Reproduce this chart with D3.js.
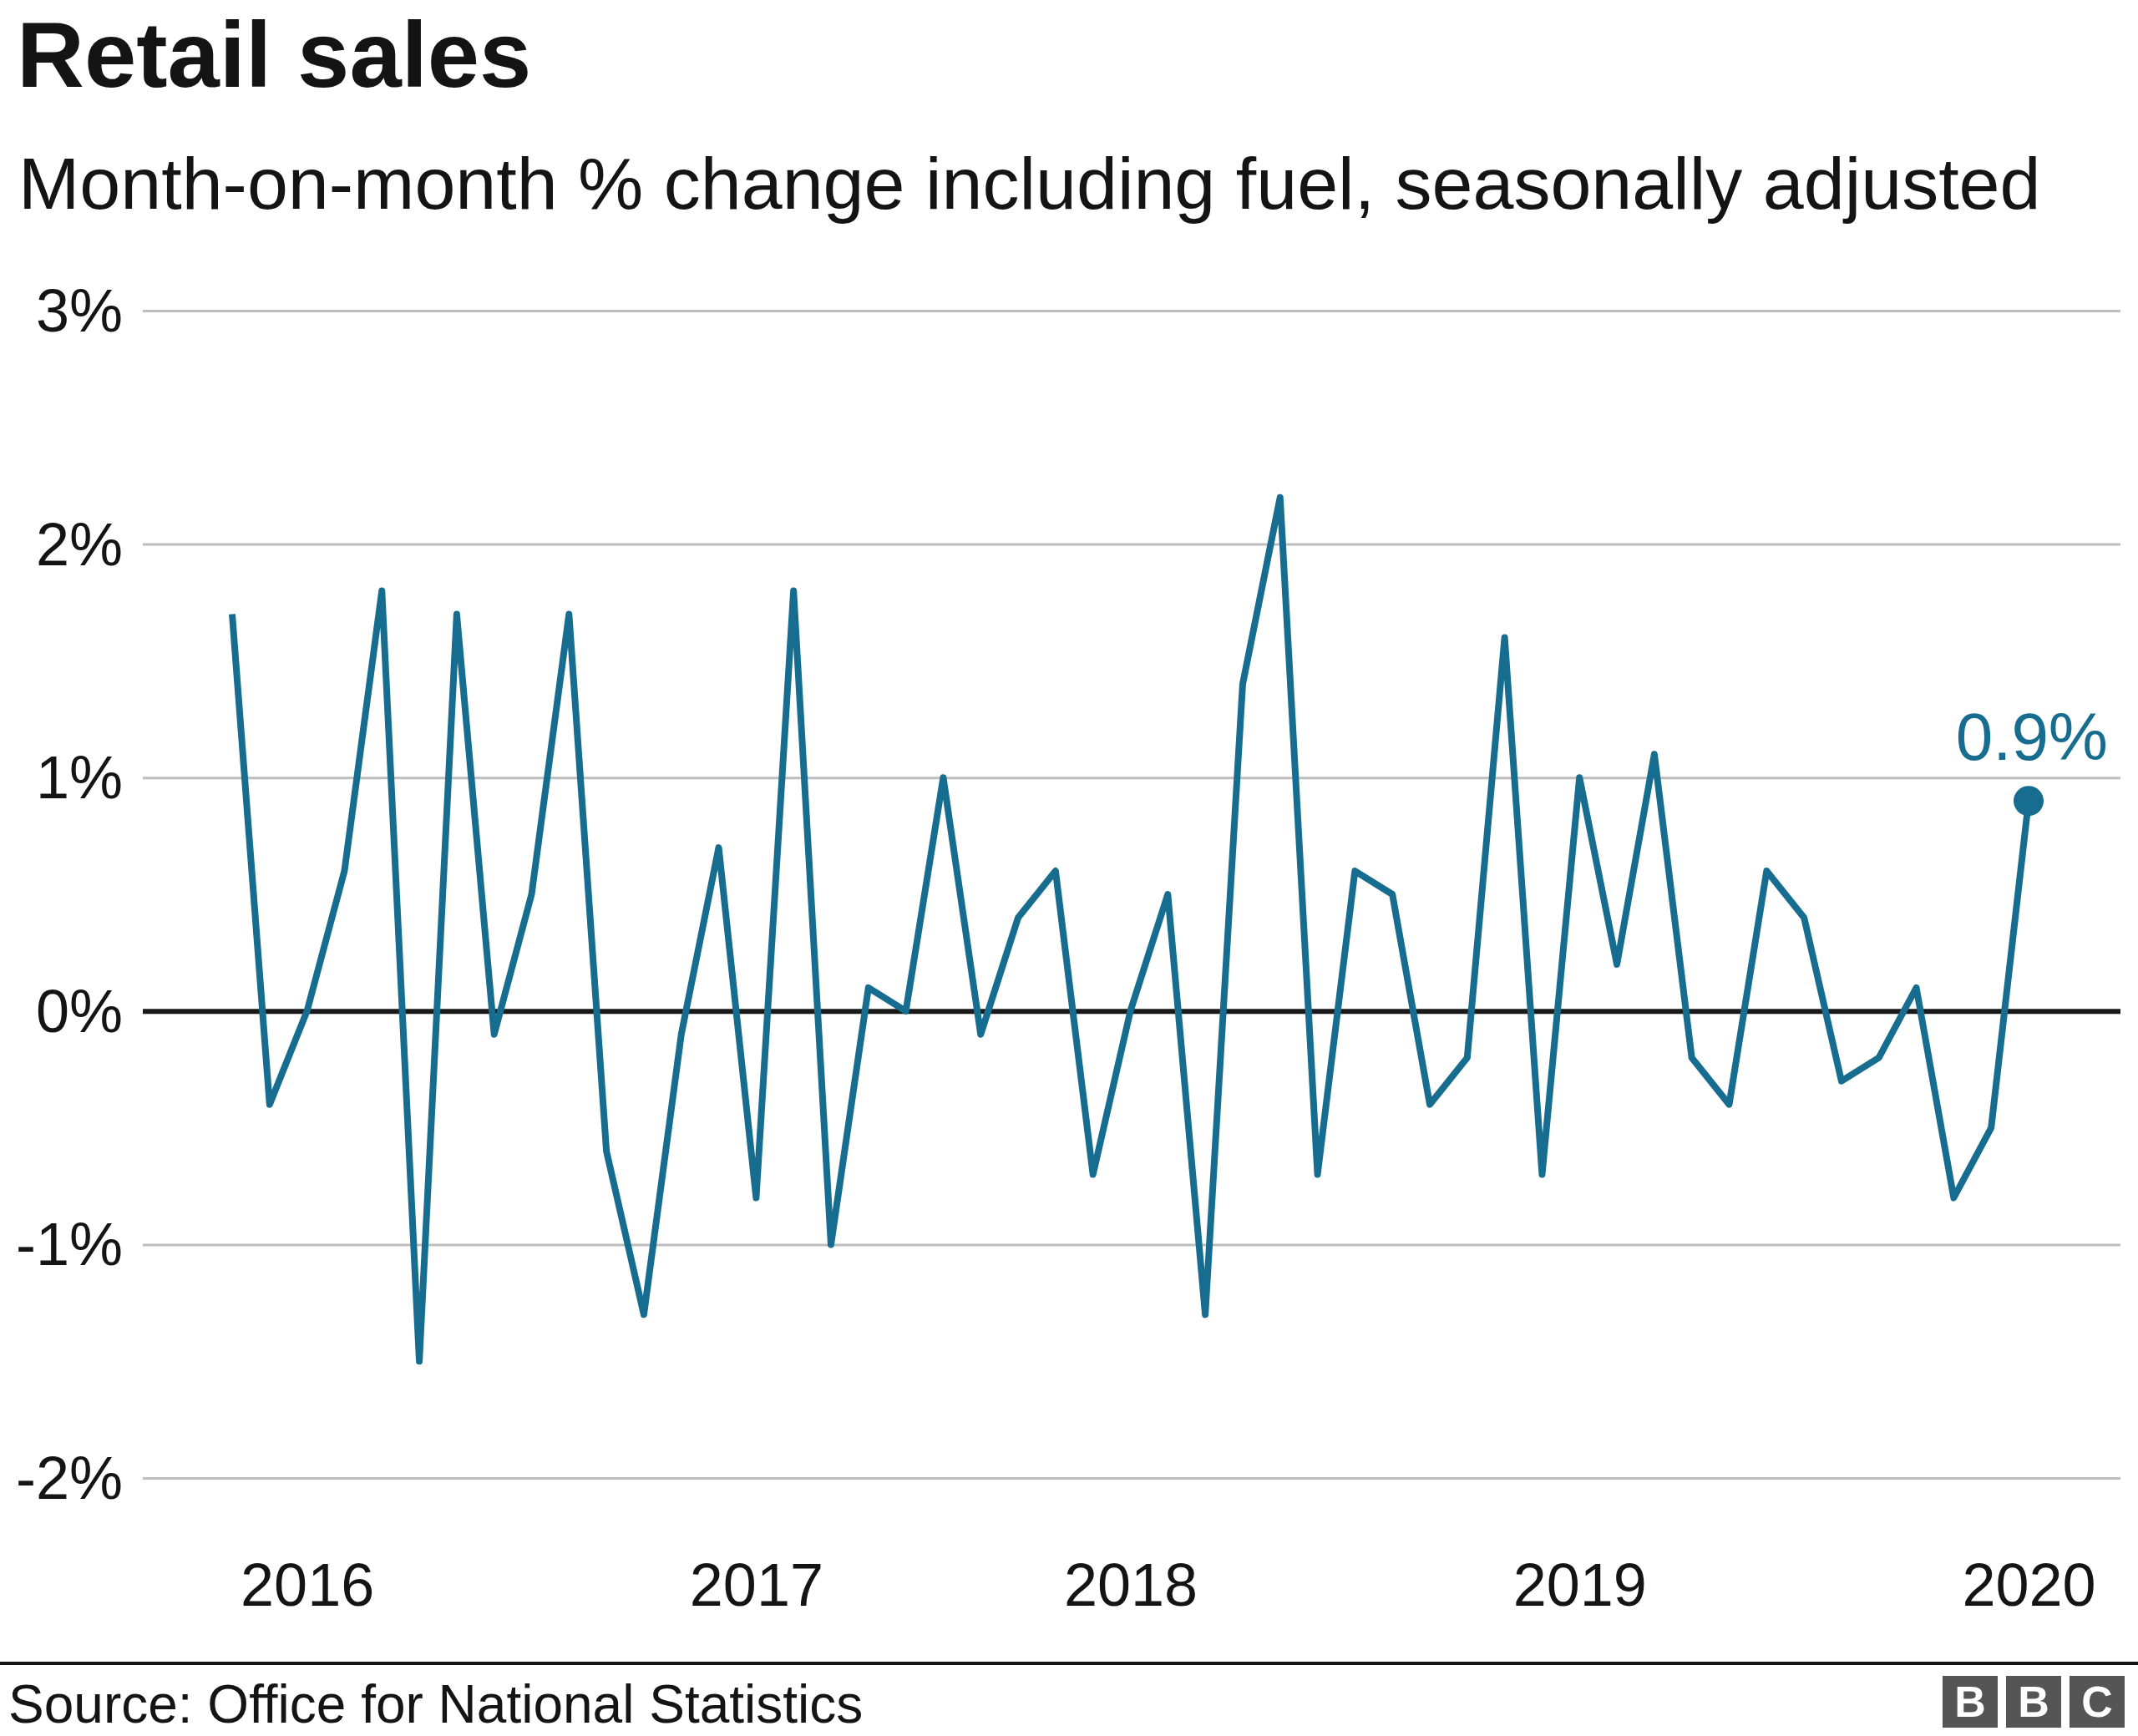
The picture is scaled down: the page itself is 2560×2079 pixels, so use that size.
<!DOCTYPE html>
<html>
<head>
<meta charset="utf-8">
<script src="https://cdn.jsdelivr.net/npm/d3@7"></script>
<style>
  html, body { margin: 0; padding: 0; background: #fff; }
  svg { display: block; font-family: "Liberation Sans", Arial, Helvetica, sans-serif; }
</style>
</head>
<body>
<svg id="chart" width="2560" height="2079"></svg>
<script>
// ---- Data ----
const months = [
  "2016-01","2016-02","2016-03","2016-04","2016-05","2016-06","2016-07","2016-08","2016-09","2016-10","2016-11","2016-12",
  "2017-01","2017-02","2017-03","2017-04","2017-05","2017-06","2017-07","2017-08","2017-09","2017-10","2017-11","2017-12",
  "2018-01","2018-02","2018-03","2018-04","2018-05","2018-06","2018-07","2018-08","2018-09","2018-10","2018-11","2018-12",
  "2019-01","2019-02","2019-03","2019-04","2019-05","2019-06","2019-07","2019-08","2019-09","2019-10","2019-11","2019-12",
  "2020-01"
];
const salesChange = [
  1.7, -0.4, 0.0, 0.6, 1.8, -1.5, 1.7, -0.1, 0.5, 1.7, -0.6, -1.3,
  -0.1, 0.7, -0.8, 1.8, -1.0, 0.1, 0.0, 1.0, -0.1, 0.4, 0.6, -0.7,
  0.0, 0.5, -1.3, 1.4, 2.2, -0.7, 0.6, 0.5, -0.4, -0.2, 1.6, -0.7,
  1.0, 0.2, 1.1, -0.2, -0.4, 0.6, 0.4, -0.3, -0.2, 0.1, -0.8, -0.5,
  0.9
];
const yTicks = [3, 2, 1, 0, -1, -2];
const xTickMonths = ["2016-03", "2017-03", "2018-01", "2019-01", "2020-01"];
const xTickLabels = ["2016", "2017", "2018", "2019", "2020"];
const titleText = "Retail sales";
const subtitleText = "Month-on-month % change including fuel, seasonally adjusted";
const sourceText = "Source: Office for National Statistics";
const endLabel = "0.9%";

// ---- Chart ----
const W = 2560, H = 2079;
const blue = "#176d8f";
const ink = "#141414";
const svg = d3.select("#chart");

svg.append("rect").attr("width", W).attr("height", H).attr("fill", "#fff");

const x = d3.scalePoint().domain(months).range([278, 2429]);
const y = d3.scaleLinear().domain([-2, 3]).range([1770, 372]);

// Titles
svg.append("text").attr("x", 20).attr("y", 104)
  .attr("font-size", 112).attr("font-weight", "bold").attr("fill", ink)
  .text(titleText);
svg.append("text").attr("x", 22).attr("y", 250)
  .attr("font-size", 88).attr("fill", ink)
  .text(subtitleText);

// Y grid + labels
const yAxis = d3.axisLeft(y).tickValues(yTicks)
  .tickSize(-(2539 - 171)).tickFormat(d => d + "%").tickPadding(24);
const gy = svg.append("g").attr("transform", "translate(171,0)").call(yAxis);
gy.select(".domain").remove();
gy.selectAll(".tick line")
  .attr("stroke", d => d === 0 ? "#1a1a1a" : "#bdbdbd")
  .attr("stroke-width", d => d === 0 ? 6 : 3);
gy.selectAll(".tick text")
  .attr("font-size", 72).attr("fill", ink)
  .attr("font-family", "'Liberation Sans', Arial, Helvetica, sans-serif")
  .attr("dy", "0.34em");

// X labels
const xAxis = d3.axisBottom(x).tickValues(xTickMonths)
  .tickFormat((d, i) => xTickLabels[i]).tickSize(0).tickPadding(0);
const gx = svg.append("g").attr("transform", "translate(0,1923)").call(xAxis);
gx.select(".domain").remove();
gx.selectAll(".tick text")
  .attr("font-size", 72).attr("fill", ink)
  .attr("font-family", "'Liberation Sans', Arial, Helvetica, sans-serif")
  .attr("dy", 0).attr("y", 0);

// Line
const data = months.map((m, i) => ({ m, v: salesChange[i] }));
const line = d3.line().x(d => x(d.m)).y(d => y(d.v));
svg.append("path").datum(data)
  .attr("d", line).attr("fill", "none")
  .attr("stroke", blue).attr("stroke-width", 8)
  .attr("stroke-linejoin", "round").attr("stroke-linecap", "butt");

// End dot + label
const last = data[data.length - 1];
svg.append("circle").attr("cx", x(last.m)).attr("cy", y(last.v)).attr("r", 18).attr("fill", blue);
svg.append("text").attr("x", 2524).attr("y", 910)
  .attr("text-anchor", "end").attr("font-size", 80).attr("fill", blue)
  .text(endLabel);

// Footer
svg.append("rect").attr("x", 0).attr("y", 1990).attr("width", W).attr("height", 4).attr("fill", ink);
svg.append("text").attr("x", 10).attr("y", 2063)
  .attr("font-size", 64).attr("fill", ink).text(sourceText);

// BBC logo
const logoLetters = ["B", "B", "C"];
const logoX = [2326, 2402, 2478];
const logo = svg.append("g");
logo.selectAll("rect").data(logoLetters).join("rect")
  .attr("x", (d, i) => logoX[i]).attr("y", 2007).attr("width", 66).attr("height", 62)
  .attr("fill", "#555");
logo.selectAll("text").data(logoLetters).join("text")
  .attr("x", (d, i) => logoX[i] + 33).attr("y", 2056)
  .attr("text-anchor", "middle").attr("font-size", 52).attr("font-weight", "bold").attr("fill", "#fff")
  .text(d => d);
</script>
</body>
</html>
